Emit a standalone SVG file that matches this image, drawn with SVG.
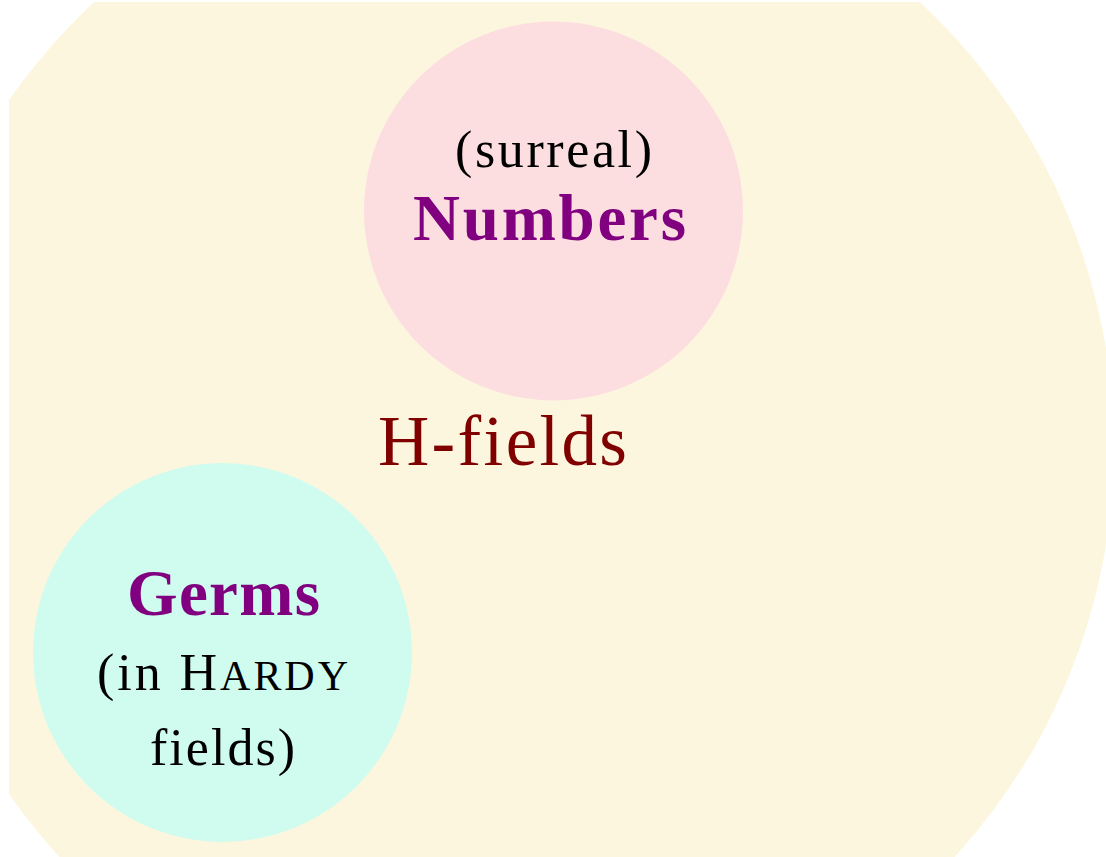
<svg xmlns="http://www.w3.org/2000/svg" width="1106" height="857" viewBox="0 0 1106 857">
  <style>
    .lbl { font-family: "Liberation Serif", "Times New Roman", serif; text-anchor: middle; }
    .title { font-weight: bold; fill: #800080; font-size: 65px; }
    .note { fill: #000000; font-size: 52px; }
    .outer { fill: #800000; font-size: 71px; }
  </style>
  <defs>
    <clipPath id="frame">
      <rect x="9" y="2" width="1097" height="855"/>
    </clipPath>
  </defs>
  <rect x="0" y="0" width="1106" height="857" fill="#ffffff"/>

  <!-- enclosing class: H-fields -->
  <g id="hfields">
    <circle cx="507" cy="447" r="607" fill="#fdf6df" clip-path="url(#frame)"/>
    <text class="lbl outer" x="502.5" y="465" textLength="249">H-fields</text>
  </g>

  <!-- surreal numbers -->
  <g id="numbers">
    <circle cx="553.5" cy="211" r="189.5" fill="#fddee0"/>
    <text class="lbl note" x="553.5" y="167" textLength="197">(surreal)</text>
    <text class="lbl title" x="549.5" y="240" textLength="273">Numbers</text>
  </g>

  <!-- germs in Hardy fields -->
  <g id="germs">
    <circle cx="222.5" cy="652.5" r="189.5" fill="#cffcee"/>
    <text class="lbl title" x="223.5" y="615" textLength="193">Germs</text>
    <text class="lbl note" x="222.5" y="690" textLength="251">(in H<tspan font-size="42">ARDY</tspan></text>
    <text class="lbl note" x="222.5" y="765" textLength="145">fields)</text>
  </g>
</svg>
